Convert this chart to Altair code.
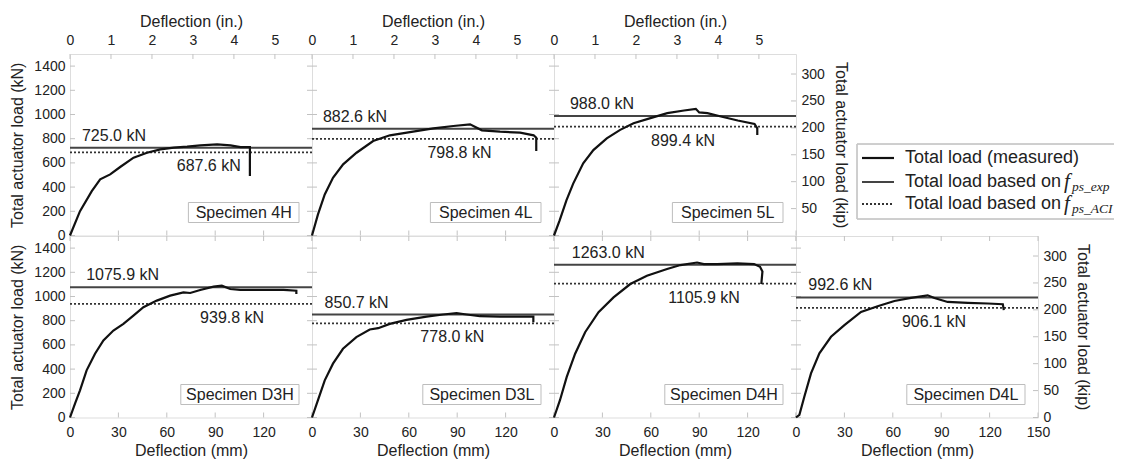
import altair as alt
import pandas as pd

# ---------------- data ----------------
SPECIMENS = ["4H", "4L", "5L", "D3H", "D3L", "D4H", "D4L"]
LOAD_EXP = [725.0, 882.6, 988.0, 1075.9, 850.7, 1263.0, 992.6]
LOAD_ACI = [687.6, 798.8, 899.4, 939.8, 778.0, 1105.9, 906.1]

DEFL_4H = [0, 6.2, 13.5, 18.7, 24.9, 31.1, 39.4, 47.7, 56.0, 64.3, 72.6, 80.8, 91.2, 99.5, 105.7, 111.5, 111.5]
LOAD_4H = [0, 201, 367, 464, 505, 566, 643, 684, 712, 726, 734, 745, 753, 745, 731, 731, 491]

DEFL_4L = [0, 3.7, 7.9, 13.0, 19.3, 27.6, 37.9, 48.3, 60.7, 75.2, 87.6, 98.0, 105.3, 116.6, 129.0, 137.4, 139.0, 139.0]
LOAD_4L = [0, 174, 339, 477, 588, 684, 781, 828, 855, 886, 905, 919, 869, 858, 850, 828, 808, 698]

DEFL_5L = [0, 3.5, 7.7, 11.9, 18.1, 24.4, 32.7, 41.0, 49.3, 59.8, 70.2, 80.6, 87.9, 90.0, 95.1, 103.5, 113.9, 124.3, 126.0, 126.0]
LOAD_5L = [0, 125, 291, 429, 596, 706, 803, 873, 928, 970, 1011, 1033, 1047, 1017, 1011, 983, 950, 922, 886, 831]

DEFL_D3H = [0, 3.1, 6.2, 10.3, 15.5, 20.7, 26.9, 33.1, 39.3, 45.5, 53.8, 62.1, 70.3, 74.5, 80.7, 89.0, 94.1, 99.3, 105.5, 117.9, 132.4, 140.3, 140.3]
LOAD_D3H = [0, 115, 225, 390, 527, 637, 719, 774, 842, 911, 966, 1007, 1034, 1029, 1054, 1081, 1089, 1062, 1054, 1054, 1054, 1048, 1021]

DEFL_D3L = [0, 3.7, 7.9, 13.0, 19.2, 27.5, 35.8, 41.0, 48.2, 58.6, 71.0, 81.3, 89.6, 95.8, 104.1, 116.5, 128.9, 137.2, 137.2]
LOAD_D3L = [0, 143, 307, 445, 568, 664, 727, 738, 774, 807, 834, 851, 862, 851, 837, 834, 834, 834, 788]

DEFL_D4H = [0, 3.7, 7.9, 13.1, 19.3, 27.6, 36.9, 47.3, 57.6, 70.1, 78.4, 88.7, 92.9, 101.2, 113.6, 124.0, 127.7, 129.2, 128.5]
LOAD_D4H = [0, 143, 335, 527, 705, 870, 993, 1103, 1172, 1227, 1260, 1281, 1268, 1268, 1273, 1268, 1246, 1207, 1103]

DEFL_D4L = [0, 2.1, 5.2, 9.3, 14.5, 21.7, 30.0, 40.3, 50.6, 61.0, 71.3, 81.6, 85.8, 94.0, 106.5, 118.9, 128.2, 128.8]
LOAD_D4L = [0, 22, 173, 365, 530, 667, 763, 873, 920, 963, 988, 1010, 988, 955, 947, 942, 936, 887]

DEFL = [DEFL_4H, DEFL_4L, DEFL_5L, DEFL_D3H, DEFL_D3L, DEFL_D4H, DEFL_D4L]
LOAD = [LOAD_4H, LOAD_4L, LOAD_5L, LOAD_D3H, LOAD_D3L, LOAD_D4H, LOAD_D4L]

# annotation anchors (deflection, mm)
EXP_LABEL_X = [7.4, 6.8, 9.9, 10.0, 7.8, 11.0, 7.6]
ACI_LABEL_X = [86, 91.4, 80, 100.5, 87, 93, 85.5]

MM_TICKS = [0, 30, 60, 90, 120, 150]
MM_LABELS_INNER = [0, 30, 60, 90, 120]
IN_TICKS = [0, 1, 2, 3, 4, 5]
KN_TICKS = [0, 200, 400, 600, 800, 1000, 1200, 1400]
KIP_TICKS_TOP = [50, 100, 150, 200, 250, 300]
KIP_TICKS_BOTTOM = [0, 50, 100, 150, 200, 250, 300]

LEGEND_LABELS = ["Total load (measured)", "Total load based on", "Total load based on"]
LEGEND_SUBS = ["", "ps_exp", "ps_ACI"]

MM_PER_IN = 25.4
KN_PER_KIP = 4.44822

# ---------------- style ----------------
W, H = 242, 181.5
FONT = "Liberation Sans"
SERIF = "Liberation Serif"
TXT = "#222222"
TICK = "#c2c2c2"
XS = alt.Scale(domain=[0, 150], nice=False, zero=False)
YS = alt.Scale(domain=[0, 1500], nice=False, zero=False)

AX = dict(ticks=False, domain=False, grid=False, labelFont=FONT, labelFontSize=14,
          labelColor=TXT, titleFont=FONT, titleFontSize=16, titleFontWeight="normal",
          titleColor=TXT, labelFlush=False, labelOverlap=False)


def panel(i, top_row, first_col, kip, last_col=False):
    # one axis definition per channel, shared by every layer of the panel
    if top_row:
        x_axis = alt.Axis(orient="top", title="Deflection (in.)",
                          values=[v * MM_PER_IN for v in IN_TICKS],
                          labelExpr=f"format(datum.value / {MM_PER_IN}, '.0f')",
                          labelPadding=7, titlePadding=4, **AX)
    else:
        x_axis = alt.Axis(orient="bottom", title="Deflection (mm)",
                          values=MM_TICKS if last_col else MM_LABELS_INNER,
                          format="d", labelPadding=8, titlePadding=3, **AX)
    if first_col:
        y_axis = alt.Axis(orient="left", title="Total actuator load (kN)", values=KN_TICKS,
                          format="d", labelPadding=5, titlePadding=8, **AX)
    elif kip:
        kvals = KIP_TICKS_TOP if top_row else KIP_TICKS_BOTTOM
        y_axis = alt.Axis(orient="right", title="Total actuator load (kip)",
                          values=[v * KN_PER_KIP for v in kvals],
                          labelExpr=f"format(datum.value / {KN_PER_KIP}, '.0f')",
                          labelPadding=5, titlePadding=8, **AX)
    else:
        y_axis = None

    def X(f):
        return alt.X(f, scale=XS, axis=x_axis)

    def Y(f):
        return alt.Y(f, scale=YS, axis=y_axis)

    n = len(DEFL[i])
    curve = pd.DataFrame({"d": DEFL[i], "p": LOAD[i], "o": list(range(n))})
    line = alt.Chart(curve).mark_line(color="#111111", strokeWidth=2.2).encode(
        x=X("d:Q"), y=Y("p:Q"), order="o:Q")

    exp_df = pd.DataFrame({"v": [LOAD_EXP[i]], "x": [EXP_LABEL_X[i]],
                           "t": [f"{LOAD_EXP[i]:.1f} kN"]})
    aci_df = pd.DataFrame({"v": [LOAD_ACI[i]], "x": [ACI_LABEL_X[i]],
                           "t": [f"{LOAD_ACI[i]:.1f} kN"]})

    exp_rule = alt.Chart(exp_df).mark_rule(color="#444444", strokeWidth=2).encode(y=Y("v:Q"))
    aci_rule = alt.Chart(aci_df).mark_rule(color="#333333", strokeWidth=1.8,
                                           strokeDash=[2, 2]).encode(y=Y("v:Q"))

    exp_txt = alt.Chart(exp_df).mark_text(align="left", baseline="alphabetic", dy=-7,
                                          font=FONT, fontSize=16, color=TXT).encode(
        x=X("x:Q"), y=Y("v:Q"), text="t:N")
    aci_txt = alt.Chart(aci_df).mark_text(align="center", baseline="alphabetic", dy=19,
                                          font=FONT, fontSize=16, color=TXT).encode(
        x=X("x:Q"), y=Y("v:Q"), text="t:N")

    label = "Specimen " + SPECIMENS[i]
    bw = 7.6 * len(label) + 27
    lab_df = pd.DataFrame({"t": [label]})
    box = alt.Chart(lab_df).mark_rect(fill="white", stroke="#bdbdbd", strokeWidth=1).encode(
        x=alt.value(W - 13 - bw), x2=alt.value(W - 13),
        y=alt.value(H - 33), y2=alt.value(H - 13))
    box_txt = alt.Chart(lab_df).mark_text(align="center", baseline="middle", font=FONT,
                                          fontSize=16, color=TXT).encode(
        x=alt.value(W - 13 - bw / 2), y=alt.value(H - 22.5), text="t:N")

    kn_df = pd.DataFrame({"v": KN_TICKS})
    mm_df = pd.DataFrame({"v": MM_TICKS})
    left_ticks = alt.Chart(kn_df).mark_rule(color=TICK).encode(
        y=Y("v:Q"), x=alt.value(0), x2=alt.value(5))
    bottom_ticks = alt.Chart(mm_df).mark_rule(color=TICK).encode(
        x=X("v:Q"), y=alt.value(H), y2=alt.value(H - 5))

    if top_row:
        in_df = pd.DataFrame({"inch": IN_TICKS})
        top_ticks = alt.Chart(in_df).transform_calculate(
            mm=f"datum.inch * {MM_PER_IN}"
        ).mark_rule(color=TICK).encode(x=X("mm:Q"), y=alt.value(0), y2=alt.value(5))
    else:
        top_ticks = alt.Chart(mm_df).mark_rule(color=TICK).encode(
            x=X("v:Q"), y=alt.value(0), y2=alt.value(5))

    if kip:
        kvals = KIP_TICKS_TOP if top_row else KIP_TICKS_BOTTOM
        kip_df = pd.DataFrame({"kip": kvals})
        right_ticks = alt.Chart(kip_df).transform_calculate(
            kn=f"datum.kip * {KN_PER_KIP}"
        ).mark_rule(color=TICK).encode(y=Y("kn:Q"), x=alt.value(W - 5), x2=alt.value(W))
    else:
        right_ticks = alt.Chart(kn_df).mark_rule(color=TICK).encode(
            y=Y("v:Q"), x=alt.value(W - 5), x2=alt.value(W))

    return alt.layer(left_ticks, right_ticks, bottom_ticks, top_ticks,
                     exp_rule, aci_rule, line, exp_txt, aci_txt, box, box_txt
                     ).properties(width=W, height=H)


# ---------------- legend panel ----------------
LW = 318
BX0, BY0, BY1 = 61, 90, 165
ROWS_Y = [104, 128, 150]
leg_df = pd.DataFrame({"t": LEGEND_LABELS, "s": LEGEND_SUBS})

leg_layers = [
    alt.Chart(leg_df).mark_rule(color="#c8c8c8").encode(
        x=alt.value(BX0), x2=alt.value(LW), y=alt.value(BY0)),
    alt.Chart(leg_df).mark_rule(color="#c8c8c8").encode(
        x=alt.value(BX0), x2=alt.value(LW), y=alt.value(BY1)),
    alt.Chart(leg_df).mark_rule(color="#c8c8c8").encode(
        x=alt.value(BX0), y=alt.value(BY0), y2=alt.value(BY1)),
]
line_styles = [
    dict(color="#111111", strokeWidth=2.2),
    dict(color="#444444", strokeWidth=2),
    dict(color="#333333", strokeWidth=1.8, strokeDash=[2, 2]),
]
for k in range(3):
    row = leg_df.iloc[[k]]
    leg_layers.append(alt.Chart(row).mark_rule(**line_styles[k]).encode(
        x=alt.value(66), x2=alt.value(98), y=alt.value(ROWS_Y[k])))
    leg_layers.append(alt.Chart(row).mark_text(align="left", baseline="middle", font=FONT,
                                               fontSize=18, color=TXT).encode(
        x=alt.value(109), y=alt.value(ROWS_Y[k]), text="t:N"))
    if LEGEND_SUBS[k]:
        leg_layers.append(alt.Chart(row).mark_text(
            align="left", baseline="middle", font=SERIF, fontStyle="italic",
            fontSize=21, color=TXT, text="f").encode(
            x=alt.value(268), y=alt.value(ROWS_Y[k])))
        leg_layers.append(alt.Chart(row).mark_text(
            align="left", baseline="middle", font=SERIF, fontStyle="italic",
            fontSize=13.5, color=TXT).encode(
            x=alt.value(276), y=alt.value(ROWS_Y[k] + 5), text="s:N"))

legend = alt.layer(*leg_layers).properties(
    width=LW, height=H, view=alt.ViewBackground(stroke="transparent"))

# ---------------- layout ----------------
panels = [
    panel(0, True, True, False), panel(1, True, False, False), panel(2, True, False, True),
    legend,
    panel(3, False, True, False), panel(4, False, False, False),
    panel(5, False, False, False), panel(6, False, False, True, last_col=True),
]

chart = alt.concat(*panels, columns=4, spacing=0, bounds="flush").properties(
    padding={"left": 1, "top": 4, "right": 3, "bottom": 0}
).configure_view(stroke="#bbbbbb", strokeWidth=1).configure(background="white")

chart.save("out.html", embed_options={"renderer": "svg", "actions": False})
